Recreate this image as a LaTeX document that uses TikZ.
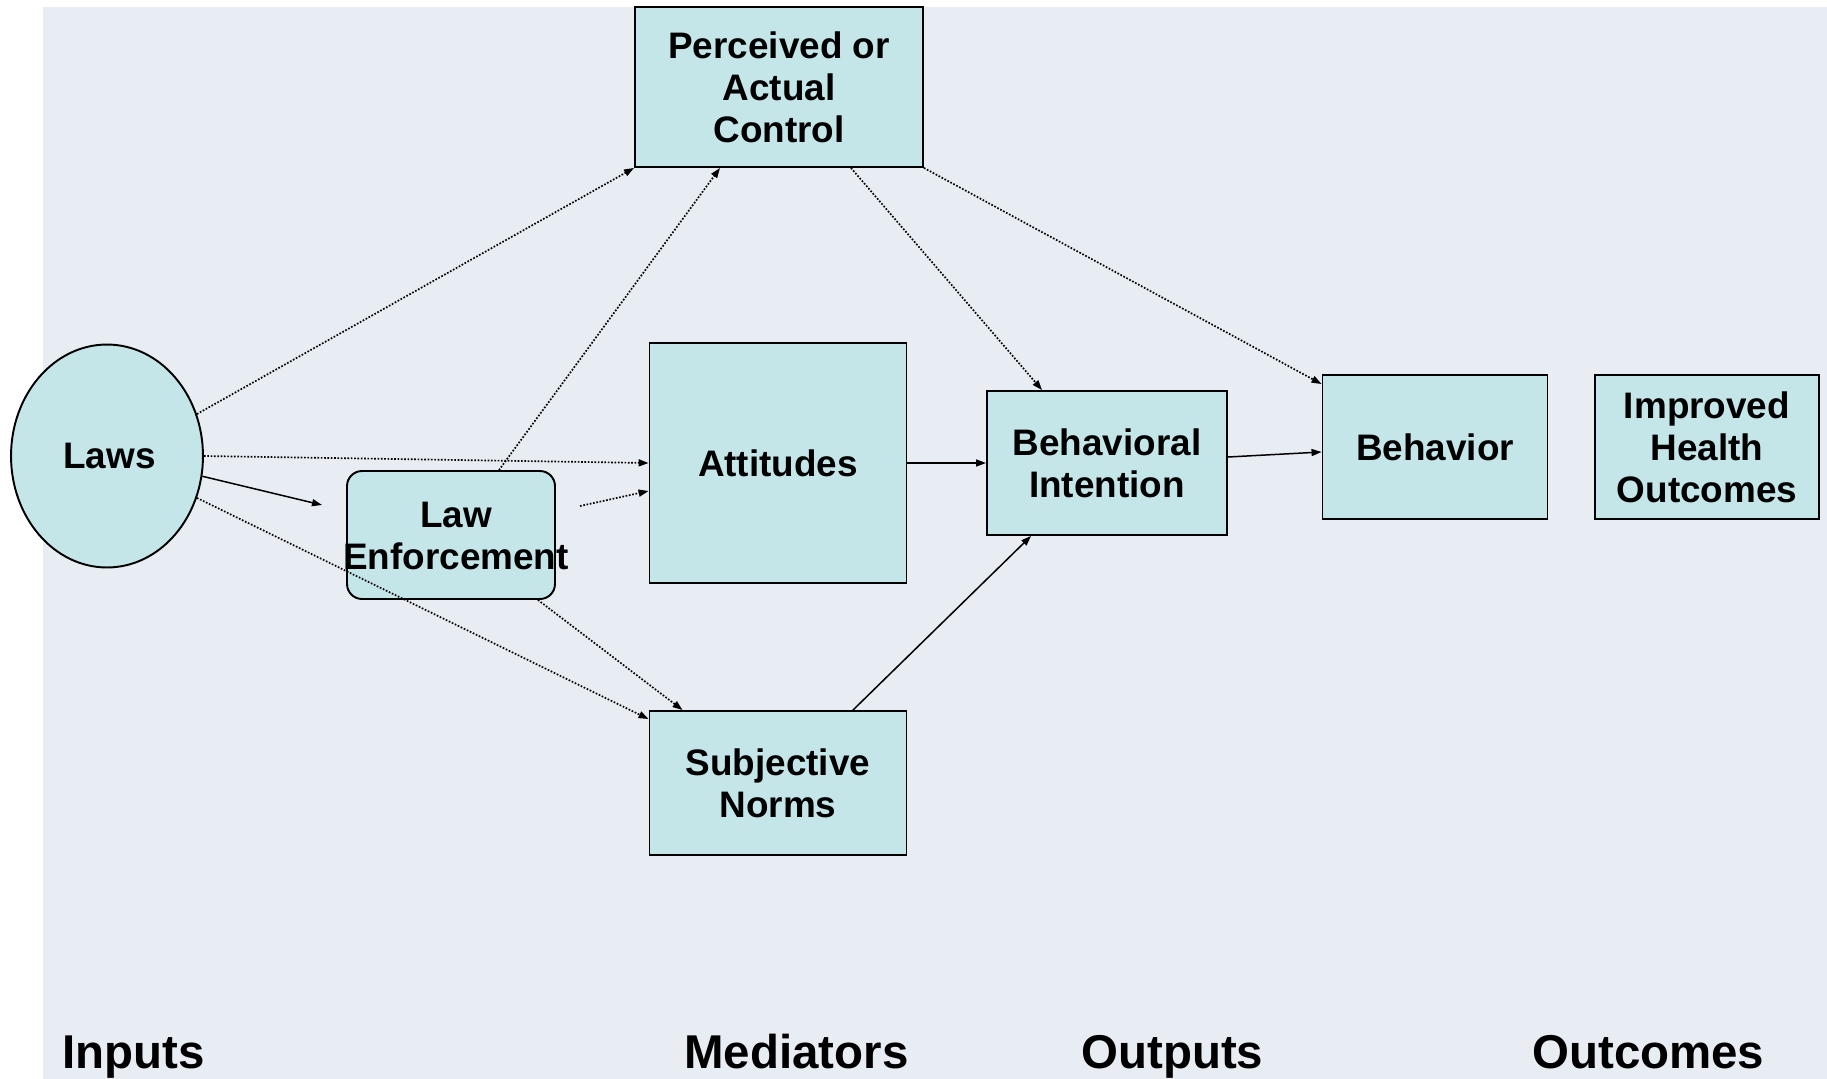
\documentclass[tikz,border=0pt]{standalone}
\usepackage{fontspec}
\setmainfont{Liberation Sans}
\usepackage{tikz}
\usetikzlibrary{shapes.geometric,arrows.meta}
\definecolor{slidebg}{RGB}{232,236,243}
\definecolor{boxfill}{RGB}{197,230,232}

\begin{document}
\begin{tikzpicture}[x=0.02cm,y=-0.02cm,%
% common options for blocks:
block/.style = {draw, fill=boxfill, align=center, line width=1.1pt,
            font=\bfseries\fontsize{21}{24}\selectfont, inner sep=0},
% common options for the ellipse:
ball/.style = {ellipse, draw, fill=boxfill, line width=1.1pt,
            font=\bfseries\fontsize{21}{24}\selectfont, inner sep=0},
% column titles at the bottom:
head/.style = {anchor=base west, inner sep=0, font=\bfseries\fontsize{27}{30}\selectfont},
% connectors:
link/.style = {line width=0.85pt, -{Triangle[length=0.2cm,width=0.14cm]}},
dotline/.style = {link, line width=0.95pt, dash pattern=on 0.95pt off 0.95pt}]
\useasboundingbox (0,0) rectangle (1827,1079);
\fill[white] (0,0) rectangle (1827,1079);
\fill[slidebg] (43,7) rectangle (1827,1079);
\node[ball,minimum width=3.84cm,minimum height=4.46cm] (Laws) at (107,456) {\hspace*{0.1cm}Laws};
\node[block,rounded corners=0.3cm,minimum width=4.16cm,minimum height=2.56cm] (Enf) at (451,535) {};
\node[font=\bfseries\fontsize{21}{24}\selectfont,align=center,inner sep=0] (EnfTxt) at (456,536) {Law\\Enforcement};
\node[block,minimum width=5.76cm,minimum height=3.2cm] (Ctrl) at (779,87) {Perceived or\\Actual\\Control};
\node[block,minimum width=5.14cm,minimum height=4.8cm] (Att) at (778,463) {Attitudes};
\node[block,minimum width=5.14cm,minimum height=2.88cm] (Norm) at (778,783) {Subjective\\Norms};
\node[block,minimum width=4.8cm,minimum height=2.88cm] (Int) at (1107,463) {Behavioral\\Intention};
\node[block,minimum width=4.5cm,minimum height=2.88cm] (Beh) at (1435,447) {Behavior};
\node[block,minimum width=4.48cm,minimum height=2.88cm] (Out) at (1707,447) {Improved\\Health\\Outcomes};
\coordinate (EnfIn) at (322,505);
\coordinate (EnfOut) at (580,506);
\node[head] (H1) at (62,1068) {Inputs};
\node[head] (H2) at (684,1068) {Mediators};
\node[head] (H3) at (1081,1068) {Outputs};
\node[head] (H4) at (1532,1068) {Outcomes};
\draw[dotline] (Laws.25) to (Ctrl.south west);
\draw[dotline] (Laws.east) to (Att.west);
\draw[link] (Laws.-12) to (EnfIn);
\draw[dotline] (Laws.-25) to ([yshift=-0.18cm]Norm.north west);
\draw[dotline] ([xshift=0.96cm]Enf.north) to ([xshift=-1.18cm]Ctrl.south);
\draw[dotline] (EnfOut) to ([yshift=-0.56cm]Att.west);
\draw[dotline] ([xshift=-0.36cm]Enf.south east) to ([xshift=0.68cm]Norm.north west);
\draw[dotline] ([xshift=1.44cm]Ctrl.south) to ([xshift=1.12cm]Int.north west);
\draw[dotline] (Ctrl.south east) to ([yshift=-0.2cm]Beh.north west);
\draw[link] (Att.east) to (Int.west);
\draw[link] ([xshift=1.5cm]Norm.north) to ([xshift=0.9cm]Int.south west);
\draw[link] ([yshift=0.12cm]Int.east) to ([yshift=-0.1cm]Beh.west);
\end{tikzpicture}
\end{document}
